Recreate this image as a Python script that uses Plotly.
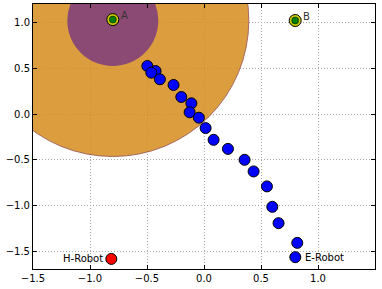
import plotly.graph_objects as go

# Data
zone_center_x = [-0.8]
zone_center_y = [1.02]
goal_names = ["A", "B"]
goal_x = [-0.80, 0.80]
goal_y = [1.03, 1.02]
path_x = [-0.497, -0.425, -0.462, -0.387, -0.267, -0.199, -0.111, -0.126, -0.045, 0.014,
          0.084, 0.210, 0.356, 0.435, 0.552, 0.599, 0.654, 0.818, 0.801]
path_y = [0.524, 0.469, 0.451, 0.379, 0.317, 0.186, 0.117, 0.019, -0.040, -0.153,
          -0.281, -0.380, -0.499, -0.626, -0.789, -1.012, -1.190, -1.405, -1.561]
h_robot_x = [-0.813]
h_robot_y = [-1.58]
e_robot_x = [path_x[-1]]
e_robot_y = [path_y[-1]]
x_ticks = [-1.5, -1.0, -0.5, 0.0, 0.5, 1.0, 1.5]
y_ticks = [-1.5, -1.0, -0.5, 0.0, 0.5, 1.0]

def fmt(v):
    s = f"{v:.1f}"
    return s.replace("-", "\u2212")

fig = go.Figure()

# Big orange zone
fig.add_trace(go.Scatter(
    x=zone_center_x, y=zone_center_y, mode="markers",
    marker=dict(size=272, color="rgb(215,141,30)", opacity=0.85,
                line=dict(color="rgb(150,80,70)", width=1)),
    hoverinfo="skip", showlegend=False))
# Purple zone
fig.add_trace(go.Scatter(
    x=zone_center_x, y=zone_center_y, mode="markers",
    marker=dict(size=91, color="rgb(125,60,124)", opacity=0.85, line=dict(width=0)),
    hoverinfo="skip", showlegend=False))

# Path points
fig.add_trace(go.Scatter(
    x=path_x, y=path_y, mode="markers",
    marker=dict(size=11, color="#0000ff", line=dict(color="black", width=1)),
    showlegend=False))

# Goals: yellow outer, green inner
fig.add_trace(go.Scatter(
    x=goal_x, y=goal_y, mode="markers",
    marker=dict(size=12, color="#cccc00", line=dict(color="black", width=1)),
    showlegend=False))
fig.add_trace(go.Scatter(
    x=goal_x, y=goal_y, mode="markers",
    marker=dict(size=7, color="green", line=dict(color="black", width=0.5)),
    showlegend=False))

# H-Robot
fig.add_trace(go.Scatter(
    x=h_robot_x, y=h_robot_y, mode="markers",
    marker=dict(size=11, color="red", line=dict(color="black", width=1)),
    showlegend=False))

font = dict(family="DejaVu Sans", size=10, color="black")
for name, gx, gy in zip(goal_names, goal_x, goal_y):
    fig.add_annotation(x=gx, y=gy, text=name, showarrow=False, xanchor="left",
                       yanchor="middle", xshift=6, yshift=4,
                       font=dict(family="DejaVu Sans", size=10, color="#333333"))
fig.add_annotation(x=h_robot_x[0], y=h_robot_y[0], text="H-Robot", showarrow=False,
                   xanchor="right", yanchor="middle", xshift=-6, font=font)
fig.add_annotation(x=e_robot_x[0], y=e_robot_y[0], text="E-Robot", showarrow=False,
                   xanchor="left", yanchor="middle", xshift=8, font=font)

axis_common = dict(
    showline=True, linecolor="black", linewidth=1, mirror="ticks",
    ticks="inside", ticklen=4, tickcolor="black", automargin=False,
    showgrid=True, gridcolor="#a8a8a8", griddash="1px,2px", gridwidth=1,
    zeroline=False, tickfont=dict(family="DejaVu Sans", size=10, color="black"),
)
fig.update_xaxes(range=[-1.5, 1.5], tickvals=x_ticks, ticktext=[fmt(v) for v in x_ticks],
                 **axis_common)
fig.update_yaxes(range=[-1.69, 1.2], tickvals=y_ticks, ticktext=[fmt(v) for v in y_ticks],
                 **axis_common)

fig.update_layout(
    width=382, height=289,
    margin=dict(l=33, r=7, t=4, b=20),
    plot_bgcolor="white", paper_bgcolor="white",
    showlegend=False,
)

fig.write_html("out.html", config={"displayModeBar": False},
               post_script="document.body.style.margin='0';document.body.style.padding='0';")
